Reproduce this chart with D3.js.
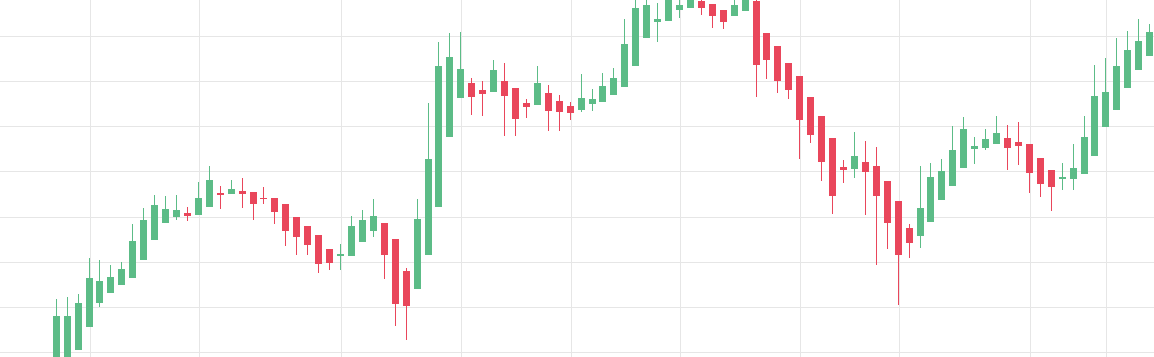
<!DOCTYPE html>
<html>
<head>
<meta charset="utf-8">
<script src="https://cdn.jsdelivr.net/npm/d3@7"></script>
<style>
  html, body { margin: 0; padding: 0; background: #ffffff; overflow: hidden; }
  svg { display: block; }
</style>
</head>
<body>
<svg id="chart" width="1154" height="357"></svg>
<script>
// ---- Data ----
const bars = d3.range(1, 102); // bar numbers 1..101
const openValues = [93.80,96.90,100.44,105.54,110.85,113.07,114.84,116.39,120.38,124.81,
  128.57,129.90,130.79,130.35,132.12,135.22,135.00,135.66,135.44,134.11,
  134.11,132.78,129.90,127.91,125.92,122.81,121.26,121.26,124.37,126.80,
  128.57,125.03,117.94,113.95,121.49,132.12,147.62,156.26,159.58,158.03,
  157.59,160.03,158.48,155.15,154.71,157.37,155.60,154.49,153.60,154.93,
  155.38,156.93,158.70,163.35,169.55,173.10,173.32,175.75,176.20,177.75,
  177.08,175.75,174.42,175.53,177.75,170.66,167.78,164.01,161.13,156.48,
  152.27,147.40,140.98,140.53,142.09,141.20,137.88,133.45,127.47,125.69,
  128.80,133.67,136.77,140.76,144.96,145.19,146.07,147.40,146.52,146.07,
  142.97,140.31,138.32,138.32,139.43,143.41,149.84,153.60,158.48,162.46,
  165.56];
const highValues = [111.74,112.18,112.85,120.82,120.38,119.27,119.94,128.35,131.90,134.78,
  134.55,134.78,132.12,137.66,141.20,136.77,138.10,138.54,135.44,136.55,
  134.11,132.78,129.90,127.91,125.92,122.81,123.92,130.12,131.45,133.89,
  128.57,125.03,118.61,133.89,155.15,168.67,170.66,170.88,160.69,160.03,
  164.68,164.01,158.48,156.04,163.35,159.14,156.93,155.38,161.58,158.25,
  161.80,162.91,173.76,179.30,179.74,177.30,180.63,178.41,180.18,179.30,
  177.08,175.75,178.85,180.18,177.90,170.66,167.78,164.01,161.13,156.48,
  152.27,147.40,142.53,148.73,146.74,145.41,137.88,133.45,128.35,141.20,
  141.86,142.75,150.06,152.05,147.62,149.39,152.27,150.28,150.95,146.07,
  142.97,140.31,141.86,146.07,152.27,163.57,165.12,169.55,171.10,173.76,
  172.65];
const lowValues = [92.69,96.01,100.44,105.54,109.97,113.07,114.84,116.39,120.38,124.81,
  128.57,129.24,129.02,130.35,132.12,131.67,135.00,131.90,129.24,132.78,
  128.35,123.48,121.49,121.49,117.50,118.16,118.16,121.26,124.37,125.47,
  116.17,105.76,102.66,113.95,121.49,132.12,147.62,156.26,152.50,152.27,
  157.59,147.84,147.84,151.83,154.71,148.95,148.95,151.39,153.16,153.38,
  155.38,156.93,158.70,163.35,169.55,168.67,173.32,173.98,176.20,174.65,
  171.77,171.54,174.42,175.53,156.48,160.47,157.37,156.04,142.75,146.29,
  137.88,130.57,137.43,138.54,130.35,119.27,122.81,110.41,120.82,123.04,
  128.80,133.67,136.77,140.76,141.64,144.74,146.07,140.31,141.42,135.22,
  134.33,131.23,135.88,135.88,139.43,143.41,149.84,153.60,158.48,162.46,
  165.56];
const closeValues = [107.97,107.97,110.85,116.39,115.73,116.61,118.38,124.59,129.24,132.56,
  131.67,131.45,130.12,134.11,138.10,134.78,136.10,135.00,132.78,133.89,
  131.01,126.80,125.47,123.70,119.49,119.71,121.71,127.91,129.24,130.12,
  121.49,110.63,110.19,129.46,142.75,163.35,165.34,162.68,156.48,157.15,
  162.46,156.70,151.61,154.27,159.58,153.38,153.16,152.94,156.26,156.04,
  158.92,160.69,168.22,176.20,176.86,173.76,178.85,176.86,179.08,176.20,
  174.42,173.10,176.86,178.85,163.57,164.68,160.03,158.03,151.39,148.07,
  142.09,134.55,140.31,143.41,139.87,134.55,128.57,121.49,124.14,131.90,
  138.76,140.09,144.74,149.39,145.63,147.18,148.51,145.19,145.63,139.65,
  137.21,136.55,138.76,140.76,147.62,156.70,157.59,163.35,166.89,168.89,
  170.88];
const priceTicks = [100, 110, 120, 130, 140, 150, 160, 170];
const timeTickBars = [4, 14, 27, 38, 48, 58, 69, 78, 90, 97]; // bar numbers with vertical grid lines

const UP = "#5cbc87", DOWN = "#e9465b", GRID = "#e6e6e6";

// ---- Layout ----
const W = 1154, H = 357;
const svg = d3.select("#chart");

const x = d3.scaleLinear().domain([1, 101]).range([56.25, 56.25 + 1093.4]);
const y = d3.scaleLinear().domain([100, 170]).range([352, 36]);

const col = b => Math.floor(x(b));

// pixel-snapped scales for grid axes
const gx = Object.assign(b => col(b) + 1, { range: () => [0, W], copy() { return gx; } });
const gy = Object.assign(p => Math.round(y(p)), { range: () => [H, 0], copy() { return gy; } });

// vertical grid
svg.append("g")
  .attr("transform", `translate(0,${H})`)
  .call(d3.axisBottom(gx).tickValues(timeTickBars).tickSize(H).tickSizeInner(-H).tickSizeOuter(0).tickFormat(""))
  .call(g => g.select(".domain").remove())
  .call(g => g.selectAll(".tick line").attr("stroke", GRID).attr("stroke-width", 1))
  .call(g => g.selectAll(".tick text").remove());

// horizontal grid
svg.append("g")
  .call(d3.axisLeft(gy).tickValues(priceTicks).tickSizeInner(-W).tickSizeOuter(0).tickFormat(""))
  .call(g => g.select(".domain").remove())
  .call(g => g.selectAll(".tick line").attr("stroke", GRID).attr("stroke-width", 1))
  .call(g => g.selectAll(".tick text").remove());

const data = bars.map((b, i) => ({
  b, o: openValues[i], h: highValues[i], l: lowValues[i], c: closeValues[i]
}));

const candles = svg.append("g").selectAll("g").data(data).join("g");

candles.append("line")
  .attr("x1", d => col(d.b) + 0.5)
  .attr("x2", d => col(d.b) + 0.5)
  .attr("y1", d => Math.round(y(d.h)))
  .attr("y2", d => Math.round(y(d.l)))
  .attr("stroke", d => d.c >= d.o ? UP : DOWN)
  .attr("stroke-width", 1)
  .attr("shape-rendering", "crispEdges");

candles.append("rect")
  .attr("x", d => col(d.b) - 3)
  .attr("width", 7)
  .attr("y", d => Math.round(y(Math.max(d.o, d.c))))
  .attr("height", d => Math.max(1, Math.round(y(Math.min(d.o, d.c))) - Math.round(y(Math.max(d.o, d.c)))))
  .attr("fill", d => d.c >= d.o ? UP : DOWN)
  .attr("shape-rendering", "crispEdges");
</script>
</body>
</html>
